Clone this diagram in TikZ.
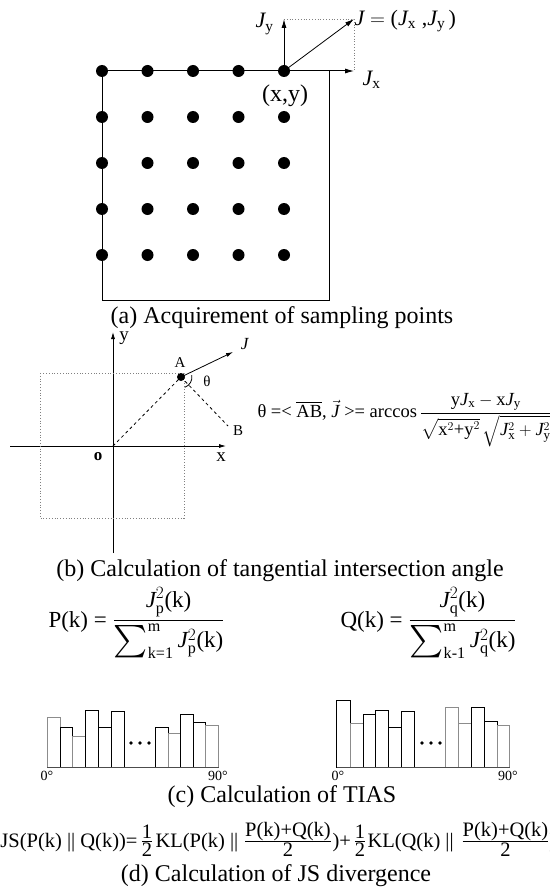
\documentclass[tikz,border=0pt]{standalone}
\usepackage{amsmath}
\usepackage{graphicx}
\usepackage{fontspec}
\setmainfont{Liberation Serif}
\usetikzlibrary{arrows.meta}
\newcommand{\fs}[1]{\fontsize{#1}{#1}\selectfont}
\newcommand{\rmJ}{\mathit{J}}
\newcommand{\cfr}[2]{{\textstyle\frac{\textstyle #1}{\textstyle #2}}}
\newcommand{\bigsum}{\mathop{\vcenter{\hbox{\scalebox{1.3}{$\textstyle\sum$}}}}\nolimits}
\begin{document}
\begin{tikzpicture}[x=1pt,y=-1pt,line width=1pt,
  arr/.style={-{Latex[length=9pt,width=5pt]}},
  sarr/.style={-{Latex[length=7pt,width=4pt]},line width=0.8pt},
  gdot/.style={circle,fill,inner sep=0pt,minimum size=12pt},
  captxt/.style={font=\fs{24},inner sep=0pt},
  lbl/.style={inner sep=0pt},
  jsp/.style={inner sep=0pt,font=\fs{20.5}},
  dotl/.style={dotted,gray,line width=0.8pt},
  hb/.style={line width=0.9pt,draw=black},
  hg/.style={line width=0.9pt,draw=black!45}]
\useasboundingbox (0,0) rectangle (549,896);

% ---------- (a) ----------
\foreach \xx [count=\c] in {102,147.5,193,238.5,284}
  \foreach \yy [count=\r] in {71,117,163,209,255}
    \node[gdot] (d\c\r) at (\xx,\yy) {};
\draw (d11.center) rectangle (329,300);
\coordinate (jx) at (354,71);
\coordinate (jy) at (284,19);
\coordinate (jj) at (354,19);
\draw[dotl] (jy) -- (jj) -- (jx);
\draw[arr] (d51.center) -- (jx);
\draw[arr] (d51.center) -- (jy);
\draw[arr,line width=0.8pt] (d51.center) -- (jj);
\node[lbl,anchor=east,font=\fs{22}] (ljy) at (274,24) {$\rmJ_{\text{y}}$};
\node[lbl,anchor=west,font=\fs{22}] (lj) at (354,21) {$\rmJ=\text{(}\rmJ_{\text{x}}\;\text{,}\rmJ_{\text{y}}\,\text{)}$};
\node[lbl,anchor=west,font=\fs{22}] (ljx) at (362,80) {$\rmJ_{\text{x}}$};
\node[lbl,font=\fs{24}] (lxy) at (285,96) {(x,y)};
\node[captxt] (capa) at (282,318) {(a) Acquirement of sampling points};

% ---------- (b) ----------
\coordinate (O) at (113,446);
\coordinate (ytop) at (113,332);
\coordinate (ybot) at (113,553);
\coordinate (xl) at (10,446);
\coordinate (xr) at (226,446);
\draw[sarr] (ybot) -- (ytop);
\draw[sarr] (xl) -- (xr);
\draw[dotl] (40,373) rectangle (184,518);
\node[circle,fill,inner sep=0pt,minimum size=8pt] (A) at (181,377) {};
\coordinate (B) at (228,426);
\coordinate (Jt) at (233,352);
\draw[dashed,line width=0.8pt] (O) -- (A.center);
\draw[dashed,line width=0.8pt] (A.center) -- (B);
\draw[sarr] (A.center) -- (Jt);
\draw[line width=0.8pt] ([shift={(-10:11)}]A.center) arc (-10:70:11);
\node[lbl,font=\fs{15}] (lA) at (180,363) {A};
\node[lbl,font=\fs{15}] (lth) at (207,381) {θ};
\node[lbl,font=\fs{15}] (lB) at (238,431) {B};
\node[lbl,font=\fs{17}] (lO) at (98,457) {\textbf{o}};
\node[lbl,font=\fs{19}] (lx) at (221,457) {x};
\node[lbl,font=\fs{19}] (ly) at (124,338) {y};
\node[lbl,font=\fs{17}] (lJ) at (245,344) {\textit{J}};
\node[lbl,anchor=west,font=\fs{18.5}] (fth) at (257,420)
  {θ =< $\overline{\text{AB}}$, $\vec{\rmJ}$ >= arccos$\,\dfrac{\text{y}\rmJ_{\text{x}}-\text{x}\rmJ_{\text{y}}}{\sqrt{\text{x}^2\text{+y}^2}\,\sqrt{\rmJ_{\text{x}}^2+\rmJ_{\text{y}}^2}}$};
\node[captxt] (capb) at (280,571) {(b) Calculation of tangential intersection angle};

% ---------- (c) ----------
\node[lbl,anchor=west,font=\fs{23}] (fP) at (48,623)
  {P(k) = $\dfrac{\rmJ_{\text{p}}^2\text{(k)}}{\bigsum_{\text{k=1}}^{\text{m}}\rmJ_{\text{p}}^2\text{(k)}}$};
\node[lbl,anchor=west,font=\fs{23}] (fQ) at (340,623)
  {Q(k) = $\dfrac{\rmJ_{\text{q}}^2\text{(k)}}{\bigsum_{\text{k-1}}^{\text{m}}\rmJ_{\text{q}}^2\text{(k)}}$};

% left histogram
\foreach \xa/\xb/\h/\st in {47.3/60.2/717.8/hg, 60.2/72.8/727.3/hb, 72.8/85.8/736.7/hg,
  85.8/98.7/710.1/hb, 98.7/111/727.3/hb, 111/124/711.9/hb,
  155/168/727.3/hb, 168/180.3/733.2/hg, 180.3/193.3/714/hb, 193.3/205.9/722/hb, 205.9/218.8/725.5/hg}
  \draw[\st] (\xa,767.5) rectangle (\xb,\h);
\draw[line width=0.9pt,black!70] (47.3,767.5) -- (218.8,767.5);
\foreach \xx in {131,140,149} \fill (\xx,743) circle (1.8pt);
\node[lbl,font=\fs{14}] (l0a) at (47,776) {0°};
\node[lbl,font=\fs{14}] (l90a) at (218,776) {90°};

% right histogram
\foreach \xa/\xb/\h/\st in {336.8/350.1/700.3/hb, 350.1/363.1/723.8/hg, 363.1/375.7/714/hb,
  375.7/388.7/710.1/hb, 388.7/401.6/727.3/hb, 401.6/414.2/711.9/hb,
  445.7/458.7/707.3/hg, 458.7/471.6/723.8/hg, 471.6/484.2/707.3/hb, 484.2/497.2/721.3/hb, 497.2/509.5/725.5/hg}
  \draw[\st] (\xa,767.5) rectangle (\xb,\h);
\draw[line width=0.9pt,black!70] (336.8,767.5) -- (509.5,767.5);
\foreach \xx in {422,431,440} \fill (\xx,743) circle (1.8pt);
\node[lbl,font=\fs{14}] (l0b) at (338,776) {0°};
\node[lbl,font=\fs{14}] (l90b) at (508,776) {90°};
\node[captxt] (capc) at (282,797) {(c) Calculation of TIAS};

% ---------- (d) ----------
\node[jsp,anchor=base east] (js1) at (138,847) {JS(P(k) || Q(k))=};
\node[jsp,anchor=base] (jsh1) at (147,847) {$\cfr{\text{1}}{\text{2}}$};
\node[jsp,anchor=base west] (jskl1) at (155,847) {KL(P(k) ||};
\node[jsp,anchor=base] (jsf1) at (288,847) {$\cfr{\text{P(k)+Q(k)}}{\text{2}}$};
\node[jsp,anchor=base west] (jspl) at (332,847) {)+};
\node[jsp,anchor=base] (jsh2) at (360,847) {$\cfr{\text{1}}{\text{2}}$};
\node[jsp,anchor=base west] (jskl2) at (367,847) {KL(Q(k) ||};
\node[jsp,anchor=base west] (jsf2) at (461,847) {$\cfr{\text{P(k)+Q(k)}}{\text{2}}$)};
\node[captxt] (capd) at (276,876) {(d) Calculation of JS divergence};
\end{tikzpicture}
\end{document}
